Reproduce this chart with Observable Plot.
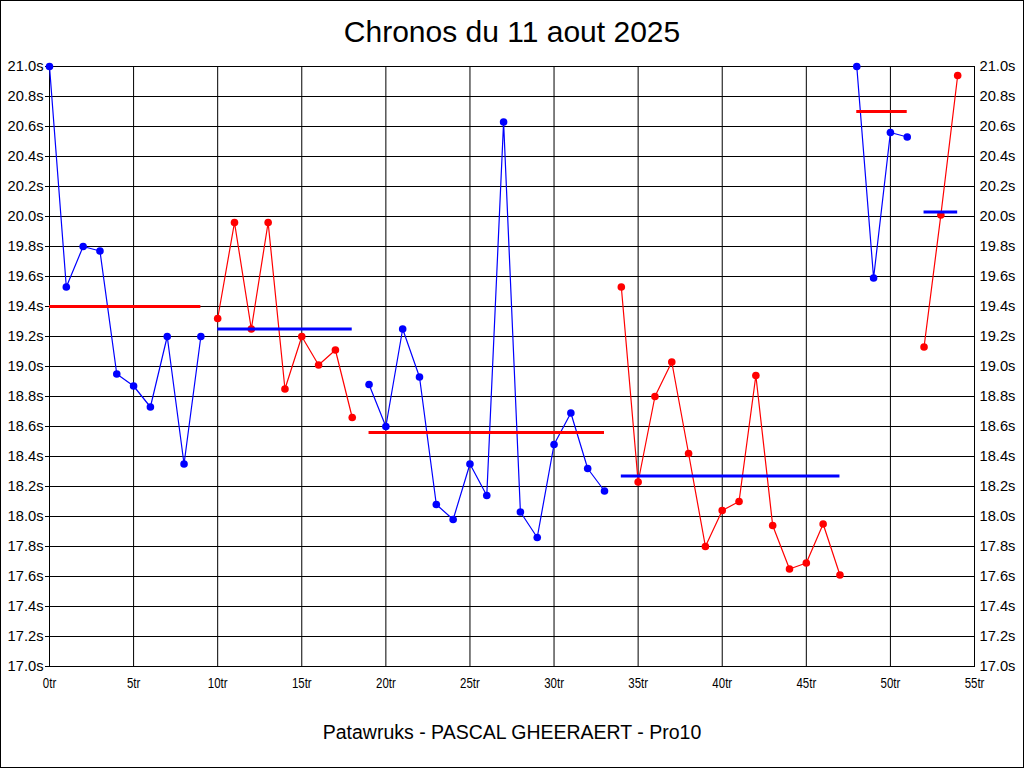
<!DOCTYPE html>
<html>
<head>
<meta charset="utf-8">
<script src="https://cdn.jsdelivr.net/npm/d3@7"></script>
<script src="https://cdn.jsdelivr.net/npm/@observablehq/plot@0.6"></script>
<style>
  html, body { margin: 0; padding: 0; background: white; }
  #wrap { position: relative; width: 1024px; height: 768px; background: white; overflow: hidden; }
  #border { position: absolute; left: 0; top: 0; width: 1024px; height: 768px; box-sizing: border-box; border: 1px solid black; pointer-events: none; }
  #title { position: absolute; left: 0; top: 15px; width: 1024px; text-align: center; font-family: "Liberation Sans", Arial, sans-serif; font-size: 30px; line-height: normal; color: black; }
  #footer { position: absolute; left: 0; top: 721px; width: 1024px; text-align: center; font-family: "Liberation Sans", Arial, sans-serif; font-size: 19.5px; line-height: normal; color: black; }
  #chart { position: absolute; left: 0; top: 50px; }
</style>
</head>
<body>
<div id="wrap">
  <div id="title">Chronos du 11 aout 2025</div>
  <div id="chart"></div>
  <div id="footer">Patawruks - PASCAL GHEERAERT - Pro10</div>
  <div id="border"></div>
</div>
<script>
// Lap times (seconds), one array per run, in lap order
const run1 = [21.00, 19.53, 19.80, 19.77, 18.95, 18.87, 18.73, 19.20, 18.35, 19.20];
const run2 = [19.32, 19.96, 19.25, 19.96, 18.85, 19.20, 19.01, 19.11, 18.66];
const run3 = [18.88, 18.60, 19.25, 18.93, 18.08, 17.98, 18.35, 18.14, 20.63, 18.03, 17.86, 18.48, 18.69, 18.32, 18.17];
const run4 = [19.53, 18.23, 18.80, 19.03, 18.42, 17.80, 18.04, 18.10, 18.94, 17.94, 17.65, 17.69, 17.95, 17.61];
const run5 = [21.00, 19.59, 20.56, 20.53];
const run6 = [19.13, 20.01, 20.94];
// First lap number of each run
const runStarts = [0, 10, 19, 34, 48, 52];
// Average line level drawn for each run
const runAverages = [19.40, 19.25, 18.56, 18.27, 20.70, 20.03];
// Axis ticks
const xTicks = [0, 5, 10, 15, 20, 25, 30, 35, 40, 45, 50, 55];
const yTicks = [17.0, 17.2, 17.4, 17.6, 17.8, 18.0, 18.2, 18.4, 18.6, 18.8, 19.0, 19.2, 19.4, 19.6, 19.8, 20.0, 20.2, 20.4, 20.6, 20.8, 21.0];

const BLUE = "#0000ff", RED = "#ff0000";
const runs = [run1, run2, run3, run4, run5, run6];

const rows = [];
const avgRows = [];
runs.forEach((run, i) => {
  run.forEach((t, j) => rows.push({lap: runStarts[i] + j, time: t, run: i}));
  avgRows.push({start: runStarts[i], end: runStarts[i] + run.length - 1, avg: runAverages[i], run: i});
});

const blueRows = rows.filter(d => d.run % 2 === 0);
const redRows = rows.filter(d => d.run % 2 === 1);
const blueAvg = avgRows.filter(d => d.run % 2 === 1);
const redAvg = avgRows.filter(d => d.run % 2 === 0);

const chart = Plot.plot({
  width: 1024,
  height: 660,
  marginTop: 16,
  marginBottom: 44,
  marginLeft: 49,
  marginRight: 50,
  x: {domain: [0, 55], label: null},
  y: {domain: [17, 21], label: null},
  style: {background: "white", color: "black", overflow: "visible", fontFamily: "'Liberation Sans', Arial, sans-serif", fontSize: "14px"},
  marks: [
    Plot.ruleX(xTicks, {stroke: "black", strokeWidth: 1}),
    Plot.ruleY(yTicks, {stroke: "black", strokeWidth: 1}),
    Plot.frame({stroke: "black"}),
    Plot.axisY(yTicks, {anchor: "left", tickSize: 4, tickPadding: 2, tickFormat: d => d.toFixed(1) + "s", label: null}),
    Plot.axisY(yTicks, {anchor: "right", tickSize: 0, tickPadding: 5, tickFormat: d => d.toFixed(1) + "s", label: null}),
    Plot.axisX(xTicks, {anchor: "bottom", tickSize: 0, tickPadding: 12, tickFormat: d => d + "tr", label: null}),
    Plot.line(blueRows, {x: "lap", y: "time", z: "run", stroke: BLUE, strokeWidth: 1.2}),
    Plot.line(redRows, {x: "lap", y: "time", z: "run", stroke: RED, strokeWidth: 1.2}),
    Plot.dot(blueRows, {x: "lap", y: "time", r: 3.8, fill: BLUE, stroke: "none"}),
    Plot.dot(redRows, {x: "lap", y: "time", r: 3.8, fill: RED, stroke: "none"}),
    Plot.ruleY(redAvg, {y: "avg", x1: "start", x2: "end", stroke: RED, strokeWidth: 3}),
    Plot.ruleY(blueAvg, {y: "avg", x1: "start", x2: "end", stroke: BLUE, strokeWidth: 3})
  ]
});
document.getElementById("chart").appendChild(chart);

// Text styling: y labels slightly widened, x labels condensed (as in the reference)
chart.querySelectorAll("text").forEach(t => {
  const s = t.textContent;
  if (/tr$/.test(s) || /s$/.test(s)) {
    t.style.fontSize = "14px";
    t.style.fontFamily = "'Liberation Sans', Arial, sans-serif";
    try {
      const bb = t.getBBox();
      const isX = /tr$/.test(s);
      const cx = isX ? bb.x + bb.width / 2 : (t.getAttribute("text-anchor") === "end" || t.closest("[text-anchor='end']") ? bb.x + bb.width : bb.x);
      const k = isX ? 0.82 : 1.05;
      const prev = t.getAttribute("transform") || "";
      t.setAttribute("transform", `${prev} translate(${cx},0) scale(${k},1) translate(${-cx},0)`.trim());
    } catch (e) {}
  }
});
</script>
</body>
</html>
